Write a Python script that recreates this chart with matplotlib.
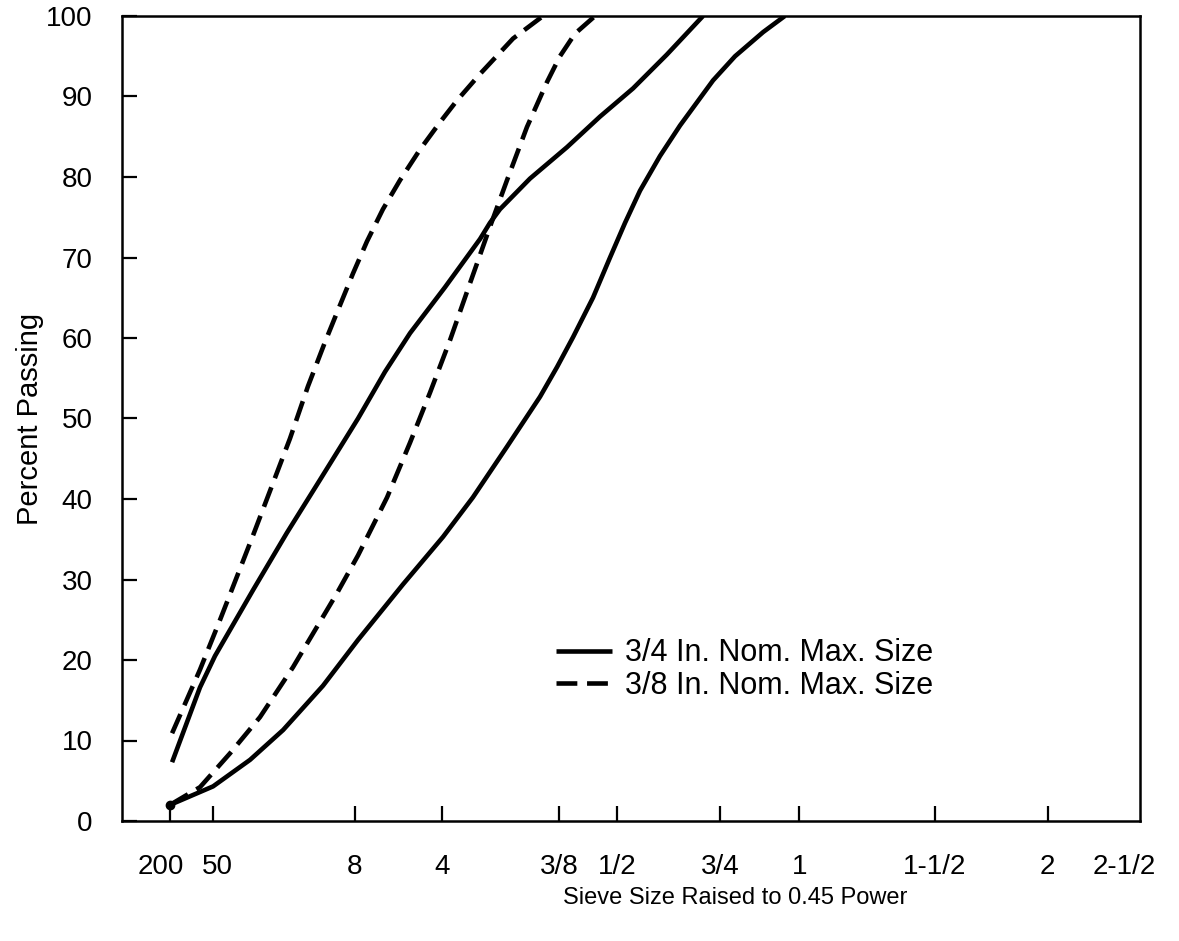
import matplotlib
matplotlib.use("Agg")
import matplotlib.pyplot as plt
from matplotlib.transforms import ScaledTranslation

plt.rcParams['font.family'] = ['Liberation Sans', 'DejaVu Sans']
plt.rcParams['lines.scale_dashes'] = False

# Sieve sizes (mm) and their labels; x axis = size ** 0.45
sieve_labels = ["200", "50", "8", "4", "3/8", "1/2", "3/4", "1", "1-1/2", "2", "2-1/2"]
sieve_mm = [0.075, 0.3, 2.36, 4.75, 9.5, 12.5, 19.0, 25.0, 37.5, 50.0, 63.0]

# Curves: x in (sieve size)^0.45 units, y in percent passing
upper_34_x = [0.325, 0.500, 0.594, 0.833, 1.045, 1.253, 1.491, 1.660, 1.817, 2.036,
              2.256, 2.318, 2.381, 2.569, 2.801, 3.008, 3.215, 3.427, 3.654]
upper_34_y = [7.3, 16.6, 20.5, 28.7, 35.8, 42.4, 50.0, 55.8, 60.6, 66.3,
              72.3, 74.3, 76.0, 79.8, 83.7, 87.5, 91.0, 95.2, 100.0]

lower_34_x = [0.312, 0.582, 0.814, 1.021, 1.271, 1.491, 1.773, 2.024, 2.211, 2.425,
              2.632, 2.739, 2.839, 2.964, 3.071, 3.165, 3.259, 3.384, 3.510, 3.717,
              3.855, 4.031, 4.167]
lower_34_y = [2.0, 4.3, 7.6, 11.3, 16.8, 22.5, 29.4, 35.3, 40.2, 46.5,
              52.7, 56.4, 60.1, 65.0, 70.0, 74.3, 78.3, 82.6, 86.4, 92.0,
              95.0, 98.0, 100.0]

upper_38_x = [0.325, 0.500, 0.626, 0.833, 1.064, 1.177, 1.284, 1.366, 1.459, 1.547,
              1.647, 1.754, 1.879, 2.005, 2.111, 2.256, 2.463, 2.651]
upper_38_y = [10.9, 18.8, 25.0, 35.5, 47.5, 54.0, 59.5, 63.5, 68.0, 72.0,
              76.0, 79.6, 83.4, 86.8, 89.5, 92.8, 97.2, 100.0]

lower_38_x = [0.312, 0.500, 0.688, 0.876, 1.083, 1.359, 1.491, 1.673, 1.817, 1.942,
              2.069, 2.193, 2.318, 2.425, 2.550, 2.676, 2.757, 2.851, 2.977]
lower_38_y = [2.0, 4.2, 8.4, 12.9, 19.1, 28.3, 33.0, 40.2, 47.0, 53.2,
              59.8, 66.8, 73.8, 79.6, 86.2, 91.8, 95.0, 97.8, 100.0]

legend_labels = ["3/4 In. Nom. Max. Size", "3/8 In. Nom. Max. Size"]

fig = plt.figure(figsize=(11.79, 9.41), dpi=100)
ax = fig.add_axes([122/1179, 1 - 821/941, (1140 - 122)/1179, (821 - 16)/941])

lw = 3.3
dash = (15, 7)
l1, = ax.plot(upper_34_x, upper_34_y, color='black', lw=lw, solid_capstyle='butt',
              solid_joinstyle='round')
ax.plot(lower_34_x, lower_34_y, color='black', lw=lw, solid_capstyle='butt',
        solid_joinstyle='round')
l2, = ax.plot(upper_38_x, upper_38_y, color='black', lw=lw, dashes=dash, dash_capstyle='butt')
ax.plot(lower_38_x, lower_38_y, color='black', lw=lw, dashes=dash, dash_capstyle='butt')
ax.plot([lower_34_x[0]], [lower_34_y[0]], 'o', color='black', ms=6)

xt = [s ** 0.45 for s in sieve_mm]
ax.set_xlim(0.011, 6.394)
ax.set_ylim(0, 100)
ax.set_xticks(xt[:-1])
ax.set_xticklabels(sieve_labels[:-1])
ax.set_yticks(range(0, 101, 10))

ax.tick_params(axis='both', direction='in', length=11, width=1.6, labelsize=20)
ax.tick_params(axis='x', pad=24)
ax.tick_params(axis='y', pad=21)
for sp in ax.spines.values():
    sp.set_linewidth(1.8)

labs = ax.get_xticklabels()
labs[0].set_transform(labs[0].get_transform() + ScaledTranslation(-0.09, 0, fig.dpi_scale_trans))
labs[1].set_transform(labs[1].get_transform() + ScaledTranslation(0.04, 0, fig.dpi_scale_trans))

# last sieve label sits just past the right frame
ax.annotate(sieve_labels[-1], xy=(xt[-1], 0), xycoords=('data', 'axes fraction'),
            xytext=(-25, -46), textcoords='offset pixels', ha='center', va='center',
            fontsize=20, annotation_clip=False)

ax.set_ylabel("Percent Passing", fontsize=21)
ax.yaxis.set_label_coords(-0.077, 0.5)
ax.set_xlabel("Sieve Size Raised to 0.45 Power", fontsize=17)
ax.xaxis.set_label_coords(0.602, -0.082)

ax.legend([l1, l2], legend_labels, loc='upper left', bbox_to_anchor=(0.4263, 0.2268),
          frameon=False, fontsize=22, handlelength=1.83, handletextpad=0.42,
          labelspacing=0.08, borderaxespad=0, borderpad=0)

fig.savefig("out.png", dpi=100)
